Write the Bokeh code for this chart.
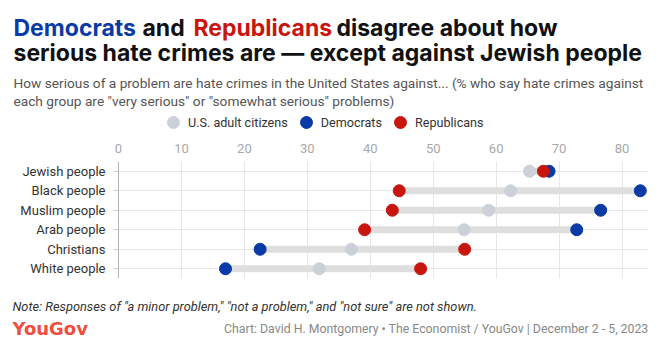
from bokeh.plotting import figure
from bokeh.layouts import column
from bokeh.models import Label, FixedTicker, Legend, LegendItem, ColumnDataSource
from bokeh.embed import file_html
from bokeh.resources import INLINE

categories = ["Jewish people", "Black people", "Muslim people", "Arab people", "Christians", "White people"]
us_adults = [65.3, 62.3, 58.8, 54.9, 37.0, 31.9]
democrats = [68.4, 82.9, 76.6, 72.8, 22.5, 17.0]
republicans = [67.5, 44.6, 43.5, 39.1, 55.0, 48.0]
x_ticks = [0, 10, 20, 30, 40, 50, 60, 70, 80]

DEM = "#0a3aa6"
REP = "#c8160e"
GRAY = "#ccd0d9"
BAR = "#dedede"
FONT = "Roboto"
TFONT = "Inter"

W = 661
HEAD_H, MAIN_H, FOOT_H = 140, 145, 58
LEFT, RIGHT, TOP = 118, 13, 20
FRAME_H = 118

lo = [min(a, b, c) for a, b, c in zip(us_adults, democrats, republicans)]
hi = [max(a, b, c) for a, b, c in zip(us_adults, democrats, republicans)]
src = ColumnDataSource(dict(cat=categories, us=us_adults, dem=democrats, rep=republicans, lo=lo, hi=hi))

# ---------------- main chart ----------------
p = figure(width=W, height=MAIN_H, y_range=list(reversed(categories)), x_range=(0, 84.2),
           x_axis_location="above", output_backend="svg", toolbar_location=None,
           min_border_left=LEFT, min_border_right=RIGHT, min_border_top=TOP,
           min_border_bottom=MAIN_H - TOP - FRAME_H)
p.frame_align = False
p.outline_line_color = None
p.y_range.range_padding = 0

p.segment(x0="lo", x1="hi", y0="cat", y1="cat", source=src, line_color=BAR, line_width=7)
p.scatter(x="us", y="cat", source=src, size=12, color=GRAY)
p.scatter(x="dem", y="cat", source=src, size=12, color=DEM)
p.scatter(x="rep", y="cat", source=src, size=12, color=REP)

xa = p.xaxis[0]
xa.ticker = FixedTicker(ticks=x_ticks)
xa.axis_line_color = None
xa.major_tick_line_color = None
xa.minor_tick_line_color = None
xa.major_label_text_color = "#a8a8a8"
xa.major_label_text_font = FONT
xa.major_label_text_font_size = "13px"
xa.major_label_standoff = 3

ya = p.yaxis[0]
ya.axis_line_color = "#b4b4b4"
ya.major_tick_line_color = "#cccccc"
ya.major_tick_out = 5
ya.major_tick_in = 0
ya.minor_tick_line_color = None
ya.major_label_standoff = 8
ya.major_label_text_color = "#333333"
ya.major_label_text_font = FONT
ya.major_label_text_font_size = "13px"

p.xgrid.grid_line_color = "#e6e6e6"
p.ygrid.grid_line_color = "#e6e6e6"


def bare(height):
    f = figure(width=W, height=height, x_range=(100, 101), y_range=(100, 101),
               x_axis_location=None, y_axis_location=None, output_backend="svg",
               toolbar_location=None, min_border=0)
    f.frame_align = False
    f.outline_line_color = None
    f.grid.grid_line_color = None
    return f


def lab(f, fh, text, cx, cy, size, color, style="normal", align="left", font=FONT):
    f.add_layout(Label(x=cx, y=fh - cy, x_units="screen", y_units="screen", text=text,
                       text_font=font, text_font_size=size, text_color=color,
                       text_font_style=style, text_align=align, text_baseline="alphabetic"))


# ---------------- header ----------------
h = bare(HEAD_H)
# legend swatches: same data, drawn outside this panel's visible range
l_us = h.scatter(x="us", y="us", source=src, size=12, color=GRAY)
l_dem = h.scatter(x="dem", y="dem", source=src, size=12, color=DEM)
l_rep = h.scatter(x="rep", y="rep", source=src, size=12, color=REP)
legend = Legend(items=[LegendItem(label="U.S. adult citizens", renderers=[l_us]),
                       LegendItem(label="Democrats", renderers=[l_dem]),
                       LegendItem(label="Republicans", renderers=[l_rep])],
                orientation="horizontal", location=(158, HEAD_H - 137),
                glyph_width=30, glyph_height=30, label_standoff=-3, spacing=3,
                padding=0, margin=0, border_line_color=None, background_fill_alpha=0,
                label_text_font=FONT, label_text_font_size="12.6px", label_text_color="#333333")
h.add_layout(legend, "center")

TS = "23px"
lab(h, HEAD_H, "Democrats", 13, 27, TS, DEM, "bold", font=TFONT)
lab(h, HEAD_H, "and", 142, 27, TS, "#111111", "bold", font=TFONT)
lab(h, HEAD_H, "Republicans", 193, 27, TS, REP, "bold", font=TFONT)
lab(h, HEAD_H, "disagree about how", 336, 27, TS, "#111111", "bold", font=TFONT)
lab(h, HEAD_H, "serious hate crimes are \u2014 except against Jewish people", 13, 52, TS, "#111111", "bold",
    font=TFONT)
lab(h, HEAD_H, "How serious of a problem are hate crimes in the United States against... (% who say hate crimes against",
    13, 82, "13.7px", "#555555")
lab(h, HEAD_H, "each group are \"very serious\" or \"somewhat serious\" problems)", 13, 100, "13.7px", "#555555")

# ---------------- footer ----------------
ft = bare(FOOT_H)
OFF = HEAD_H + MAIN_H
lab(ft, FOOT_H, "Note: Responses of \"a minor problem,\" \"not a problem,\" and \"not sure\" are not shown.",
    12, 306 - OFF, "12.8px", "#333333", "italic")
lab(ft, FOOT_H, "YouGov", 12, 328 - OFF, "18px", "#f04e3e", "bold", font="DejaVu Sans")
lab(ft, FOOT_H, "Chart: David H. Montgomery \u2022 The Economist / YouGov | December 2 - 5, 2023",
    648, 328 - OFF, "12.3px", "#888888", "normal", "right")

layout = column(h, p, ft, spacing=0)
open("out.html", "w").write(file_html(layout, INLINE))
